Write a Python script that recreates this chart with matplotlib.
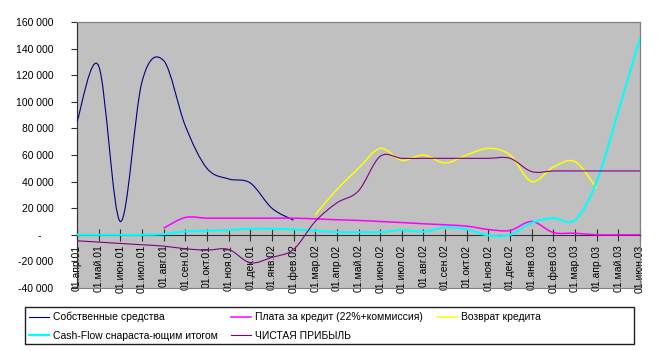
import numpy as np
import matplotlib
matplotlib.use("Agg")
import matplotlib.pyplot as plt
from matplotlib.path import Path
from matplotlib.patches import PathPatch, Rectangle
from matplotlib.lines import Line2D

plt.rcParams["font.family"] = ["Liberation Sans", "DejaVu Sans"]

nan = np.nan

# ── Data ───────────────────────────────────────────────────────────────────────
months = ["01.апр.01", "01.май.01", "01.июн.01", "01.июл.01", "01.авг.01", "01.сен.01",
          "01.окт.01", "01.ноя.01", "01.дек.01", "01.янв.02", "01.фев.02", "01.мар.02",
          "01.апр.02", "01.май.02", "01.июн.02", "01.июл.02", "01.авг.02", "01.сен.02",
          "01.окт.02", "01.ноя.02", "01.дек.02", "01.янв.03", "01.фев.03", "01.мар.03",
          "01.апр.03", "01.май.03", "01.июн.03"]

own_funds = [85000, 127000, 10000, 115000, 131000, 82000, 50000, 42000, 39000, 20000,
             11000] + [nan] * 16
credit_fee = [nan] * 4 + [5000, 13000, 12500, 12500, 12500, 12500, 12500, 12000, 11300,
                          10800, 10000, 9200, 8300, 7500, 6500, 4000, 3300, 10000, 1700,
                          1200, 0, 0, 0]
repayment = [nan] * 11 + [15000, 34000, 50000, 65000, 56000, 60000, 54000, 60000, 65000,
                          60000, 40000, 51000, 55000, 35000, nan, nan]
cash_flow = [0, 0, 0, 0, 500, 2500, 3000, 3500, 4500, 4500, 4000, 3000, 2000, 2000, 2000,
             3500, 2300, 5500, 4000, -500, 0, 9000, 12500, 11000, 40000, 93000, 148000]
net_profit = [-4500, -5500, -6500, -7500, -8500, -10500, -11500, -11000, -21000, -17000,
              -11000, 10000, 24000, 33000, 59000, 57500, 57500, 57500, 57500, 57500, 57500,
              47500, 48000, 48000, 48000, 48000, 48000]

series = [
    ("Собственные средства", own_funds, "#000080", 0.8),
    ("Плата за кредит (22%+коммиссия)", credit_fee, "#FF00FF", 1.1),
    ("Возврат кредита", repayment, "#FFFF00", 1.1),
    ("Cash-Flow снараста-ющим итогом", cash_flow, "#00FFFF", 1.5),
    ("ЧИСТАЯ ПРИБЫЛЬ", net_profit, "#800080", 0.8),
]


def smooth_path(x, y):
    """Excel-like smoothed line: cubic Bezier through the data points."""
    y = np.asarray(y, dtype=float)
    m = ~np.isnan(y)
    pts = np.column_stack([x[m], y[m]])
    n = len(pts)
    verts = [pts[0]]
    codes = [Path.MOVETO]
    for i in range(n - 1):
        p0 = pts[max(i - 1, 0)]
        p1 = pts[i]
        p2 = pts[i + 1]
        p3 = pts[min(i + 2, n - 1)]
        verts += [p1 + (p2 - p0) / 6, p2 - (p3 - p1) / 6, p2]
        codes += [Path.CURVE4] * 3
    return Path(verts, codes)


# ── Figure ─────────────────────────────────────────────────────────────────────
fig = plt.figure(figsize=(6.61, 3.51), dpi=100, facecolor="white")
ax = fig.add_axes([77 / 661, 1 - 288 / 351, (640 - 77) / 661, (288 - 22) / 351])
ax.set_facecolor("#C0C0C0")

# spine position first: it resets the ticks
ax.spines["bottom"].set_position(("data", 0))
ax.spines["bottom"].set_color("#303030")
ax.spines["left"].set_color("#303030")
for s in ["top", "right"]:
    ax.spines[s].set_color("#808080")
ax.add_patch(Rectangle((0, 0), 1, 1, transform=ax.transAxes, fill=False,
                       edgecolor="#808080", linewidth=0.8, clip_on=False, zorder=2))

x = np.arange(len(months))
handles = []
for i, (name, vals, col, lw) in enumerate(series):
    ax.add_patch(PathPatch(smooth_path(x, vals), fill=False, edgecolor=col,
                           linewidth=lw, zorder=3 + i, capstyle="butt"))
    handles.append(Line2D([], [], color=col, linewidth=lw))

ax.set_xlim(0, len(months) - 1)
ax.set_ylim(-40000, 160000)

yticks = list(range(-40000, 160001, 20000))
ax.set_yticks(yticks)
ax.set_yticklabels([f"{v:,}".replace(",", " ") if v != 0 else "-    " for v in yticks])
ax.set_xticks(x)
ax.set_xticklabels(months, rotation=90, va="top", ha="center")

ax.tick_params(axis="y", direction="out", length=4, width=0.8, color="#303030",
               labelsize=7.5, pad=13)
ax.tick_params(axis="x", direction="inout", length=8, width=0.8, color="#303030",
               labelsize=7.5, pad=3)

# ── Legend ─────────────────────────────────────────────────────────────────────
fig.patches.append(Rectangle((25 / 661, 1 - 344 / 351), 609 / 661, 37 / 351,
                             transform=fig.transFigure, facecolor="white",
                             edgecolor="#202020", linewidth=1))
order = [0, 3, 1, 4, 2]
fig.legend([handles[i] for i in order], [series[i][0] for i in order],
           loc="upper left", bbox_to_anchor=(29 / 661, 1 - 312 / 351), ncol=3,
           frameon=False, fontsize=7.5, handlelength=1.9, handletextpad=0.4,
           columnspacing=1.3, labelspacing=0.8, borderpad=0, borderaxespad=0)

fig.savefig("out.png", dpi=100, facecolor="white")
